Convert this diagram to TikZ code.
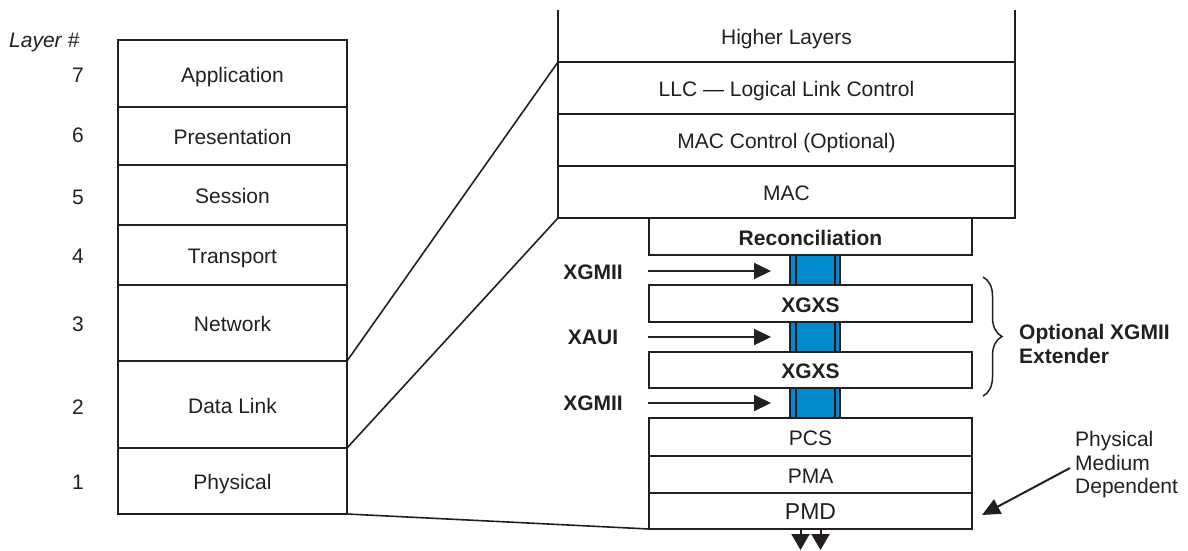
\documentclass[tikz,border=0pt]{standalone}
\usepackage{fontspec}
\setmainfont{Liberation Sans}
\usetikzlibrary{arrows.meta,decorations.pathreplacing}
\definecolor{barblue}{RGB}{0,137,204}
\definecolor{ink}{RGB}{35,31,32}
\begin{document}
\begin{tikzpicture}[x=1pt,y=-1pt,
  font=\fontsize{21}{23.5}\selectfont,
  every node/.style={text=ink},
  box/.style={draw=ink, line width=1.8pt, rectangle, inner sep=0pt, outer sep=0pt, anchor=north west, text height=17pt, text depth=0pt},
  plain/.style={rectangle, inner sep=0pt, outer sep=0pt, anchor=north west, text height=17pt, text depth=0pt},
  bar/.style={draw=ink, fill=barblue, line width=1.6pt, rectangle, inner sep=0pt, outer sep=0pt, anchor=north west, minimum width=50pt, minimum height=30pt},
  link/.style={draw=ink, line width=1.6pt},
  arr/.style={draw=ink, line width=2pt, -{Triangle[length=17pt,width=16pt]}},
  downarr/.style={draw=ink, line width=2pt, -{Triangle[length=16pt,width=18pt]}},
  lbl/.style={inner sep=0pt},
  num/.style={inner sep=0pt, text height=17pt, text depth=0pt}
]
\useasboundingbox (0,0) rectangle (1188,550);

% ---- OSI stack (left)
\node[lbl, font=\fontsize{21}{23.5}\selectfont\itshape, anchor=west] (layerhdr) at (9,42) {Layer \#};
\node[box, minimum width=229pt, minimum height=67pt] (app) at (118,40) {Application};
\node[box, minimum width=229pt, minimum height=58pt] (pres) at (118,107) {Presentation};
\node[box, minimum width=229pt, minimum height=60pt] (sess) at (118,165) {Session};
\node[box, minimum width=229pt, minimum height=60pt] (trans) at (118,225) {Transport};
\node[box, minimum width=229pt, minimum height=76pt] (net) at (118,285) {Network};
\node[box, minimum width=229pt, minimum height=87pt] (dl) at (118,361) {Data Link};
\node[box, minimum width=229pt, minimum height=66pt] (phys) at (118,448) {Physical};

\node[num] (n7) at (78,74) {7};
\node[num] (n6) at (78,134) {6};
\node[num] (n5) at (78,196) {5};
\node[num] (n4) at (78,255) {4};
\node[num] (n3) at (78,323) {3};
\node[num] (n2) at (78,406) {2};
\node[num] (n1) at (78,481) {1};

% ---- IEEE stack (right, upper)
\node[plain, minimum width=457pt, minimum height=52pt] (hl) at (558,10) {Higher Layers};
\draw[draw=ink, line width=1.8pt] (hl.north west) -- (hl.south west) -- (hl.south east) -- (hl.north east);
\node[box, minimum width=457pt, minimum height=52pt] (llc) at (558,62) {LLC — Logical Link Control};
\node[box, minimum width=457pt, minimum height=52pt] (macc) at (558,114) {MAC Control (Optional)};
\node[box, minimum width=457pt, minimum height=52pt] (mac) at (558,166) {MAC};

% ---- IEEE stack (right, lower)
\node[box, minimum width=323pt, minimum height=37pt, font=\fontsize{21}{23.5}\selectfont\bfseries] (rec) at (649,218) {Reconciliation};
\node[box, minimum width=323pt, minimum height=37pt, font=\fontsize{21}{23.5}\selectfont\bfseries] (xgxsa) at (649,285) {XGXS};
\node[box, minimum width=323pt, minimum height=36pt, font=\fontsize{21}{23.5}\selectfont\bfseries] (xgxsb) at (649,352) {XGXS};
\node[box, minimum width=323pt, minimum height=38pt] (pcs) at (649,418) {PCS};
\node[box, minimum width=323pt, minimum height=37pt] (pma) at (649,456) {PMA};
\node[box, minimum width=323pt, minimum height=36pt, font=\fontsize{23}{25}\selectfont] (pmd) at (649,493) {PMD};

% ---- interface bars
\node[bar] (ba) at (790,255) {};
\node[bar] (bb) at (790,322) {};
\node[bar] (bc) at (790,388) {};
\foreach \b in {ba,bb,bc}{
  \draw[draw=ink, line width=1.4pt] ([xshift=6pt]\b.north west) -- ([xshift=6pt]\b.south west);
  \draw[draw=ink, line width=1.4pt] ([xshift=-5pt]\b.north east) -- ([xshift=-5pt]\b.south east);
}

% ---- interface labels and arrows
\node[lbl, font=\fontsize{21}{23.5}\selectfont\bfseries] (lxa) at (593,272) {XGMII};
\node[lbl, font=\fontsize{21}{23.5}\selectfont\bfseries] (lxb) at (593,337) {XAUI};
\node[lbl, font=\fontsize{21}{23.5}\selectfont\bfseries] (lxc) at (593,403) {XGMII};
\coordinate (sa) at (648,271); \coordinate (ea) at (771,271);
\coordinate (sb) at (648,337); \coordinate (eb) at (771,337);
\coordinate (sc) at (648,403); \coordinate (ec) at (771,403);
\draw[arr] (sa) -- (ea);
\draw[arr] (sb) -- (eb);
\draw[arr] (sc) -- (ec);

% ---- brace and its label
\coordinate (brtop) at (983,277);
\coordinate (brbot) at (983,396);
\draw[draw=ink, line width=1.5pt, decorate, decoration={brace, amplitude=19pt}] (brtop) -- (brbot);
\node[lbl, anchor=west, align=left, font=\fontsize{21}{24}\selectfont\bfseries] (ext) at (1019,344) {Optional XGMII\\Extender};

% ---- PMD note
\node[lbl, anchor=west, align=left] (pmdnote) at (1075,465) {Physical\\Medium\\Dependent};
\draw[draw=ink, line width=2pt, -{Triangle[length=18pt,width=16pt]}] ([xshift=-5pt,yshift=-3pt]pmdnote.west) -- ([xshift=10pt,yshift=-4pt]pmd.east);

% ---- down arrows under PMD
\draw[downarr] ([xshift=-10pt]pmd.south) -- ++(0,21);
\draw[downarr] ([xshift=10pt]pmd.south) -- ++(0,21);

% ---- mapping lines between stacks
\draw[link] (dl.north east) -- (llc.north west);
\draw[link] (phys.north east) -- (mac.south west);
\draw[link] (phys.south east) -- (pmd.south west);
\end{tikzpicture}
\end{document}
